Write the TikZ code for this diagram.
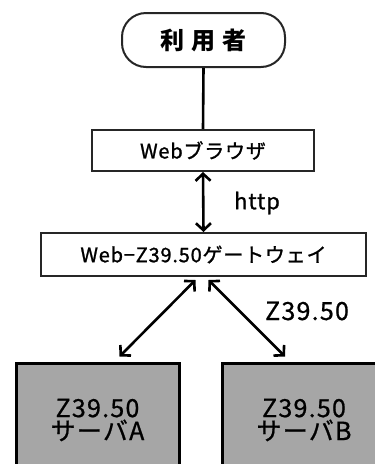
\documentclass[tikz,border=0pt]{standalone}
\usepackage{fontspec}
\setmainfont{Noto Sans CJK JP}
\usetikzlibrary{arrows.meta}
\definecolor{srvgray}{HTML}{A6A6A6}
\begin{document}
\begin{tikzpicture}[x=1pt,y=-1pt,
  box/.style={draw=black!85, line width=2pt, fill=white, inner sep=0pt},
  userbox/.style={box, rounded corners=24pt,
    minimum width=163pt, minimum height=54pt},
  srvbox/.style={draw=black, line width=3pt, fill=srvgray, inner sep=0pt,
    align=center, minimum width=163pt, minimum height=114pt},
  link/.style={line width=2.6pt, {Straight Barb[length=7pt,width=15pt]}-{Straight Barb[length=7pt,width=15pt]}},
  lbl/.style={inner sep=0pt},
  midtext/.style={font=\fontsize{20}{22}\selectfont\addfontfeature{LetterSpace=4,FakeBold=1.2}},
  bigtext/.style={font=\fontsize{25}{27}\selectfont\addfontfeature{LetterSpace=5,FakeBold=0.8}}]
\useasboundingbox (0,0) rectangle (375,464);
\clip (0,0) rectangle (375,464);
\fill[white] (0,0) rectangle (375,464);

% user at the top
\node[userbox, font=\fontsize{24}{26}\selectfont\bfseries] (user) at (203.5,40) {利\hspace{0.3em}用\hspace{0.3em}者};

% browser and gateway
\node[box, minimum width=222pt, minimum height=41pt, midtext] (browser) at (203,150.5) {Webブラウザ};
\node[box, minimum width=325pt, minimum height=43pt, midtext] (gw) at (203.5,254.5) {Web−Z39.50ゲートウェイ};

% Z39.50 servers
\node[srvbox, bigtext] (srvA) at (97.5,420) {Z39.50\\[-4pt]サーバA};
\node[srvbox, bigtext] (srvB) at (304,420) {Z39.50\\[-4pt]サーバB};

% connectors
\draw[line width=2.6pt] (user.south) -- (browser.north);
\draw[link] (browser.south) -- (gw.north);
\draw[link] ([xshift=-8pt,yshift=-3pt]gw.south) -- ([xshift=22pt,yshift=5pt]srvA.north);
\draw[link] ([xshift=5pt,yshift=-3pt]gw.south) -- ([xshift=-19pt,yshift=5pt]srvB.north);

% protocol labels
\node[lbl, font=\fontsize{22}{24}\selectfont\addfontfeature{LetterSpace=4,FakeBold=1}] (http) at (257,203) {http};
\node[lbl, bigtext] (zlbl) at (307,311) {Z39.50};
\end{tikzpicture}
\end{document}
